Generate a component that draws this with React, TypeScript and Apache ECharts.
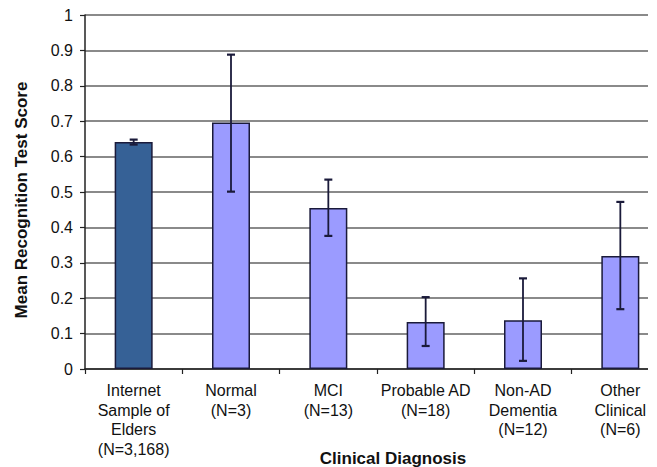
import React, { useEffect, useRef } from "react";
import * as echarts from "echarts";

const categories = [
  "Internet\nSample of\nElders\n(N=3,168)",
  "Normal\n(N=3)",
  "MCI\n(N=13)",
  "Probable AD\n(N=18)",
  "Non-AD\nDementia\n(N=12)",
  "Other\nClinical\n(N=6)",
];
const means = [0.641, 0.696, 0.455, 0.133, 0.138, 0.319];
const errLow = [0.634, 0.501, 0.376, 0.065, 0.023, 0.169];
const errHigh = [0.648, 0.888, 0.535, 0.203, 0.256, 0.472];
const yTicks = [0, 0.1, 0.2, 0.3, 0.4, 0.5, 0.6, 0.7, 0.8, 0.9, 1];

const FONT = "Liberation Sans, Arial, sans-serif";

export default function App() {
  const ref = useRef<HTMLDivElement>(null);
  useEffect(() => {
    if (!ref.current) return;
    const chart = echarts.init(ref.current, undefined, { renderer: "svg" });
    chart.setOption({
      animation: false,
      backgroundColor: "#ffffff",
      grid: { left: 85, top: 15, width: 584, height: 354, containLabel: false },
      xAxis: {
        type: "category",
        data: categories,
        axisLine: { lineStyle: { color: "#222", width: 1.5 } },
        axisTick: { show: true, alignWithLabel: false, length: 5, lineStyle: { color: "#222", width: 1.2 } },
        axisLabel: {
          color: "#111",
          fontFamily: FONT,
          fontSize: 16,
          lineHeight: 19.5,
          margin: 12,
          interval: 0,
        },
        splitLine: { show: false },
      },
      yAxis: {
        type: "value",
        min: 0,
        max: 1,
        interval: 0.1,
        axisLine: { show: true, lineStyle: { color: "#222", width: 1.5 } },
        axisTick: { show: true, length: 5, lineStyle: { color: "#222", width: 1.2 } },
        axisLabel: {
          color: "#111",
          fontFamily: FONT,
          fontSize: 16,
          margin: 12,
          formatter: (v: number) => {
            const t = yTicks.find((x) => Math.abs(x - v) < 1e-9);
            return t === undefined ? "" : String(Number(t.toFixed(1)));
          },
        },
        splitLine: { show: true, lineStyle: { color: "#8a8a8a", width: 1.8 } },
      },
      series: [
        {
          type: "bar",
          barWidth: 38,
          data: means.map((v, i) => ({
            value: v,
            itemStyle: { color: i === 0 ? "#366196" : "#9b9bff" },
          })),
          itemStyle: { borderColor: "#1a1a3a", borderWidth: 1.5 },
          z: 2,
        },
        {
          type: "custom",
          z: 3,
          data: means.map((_, i) => [i, errLow[i], errHigh[i]]),
          renderItem: (params: any, api: any) => {
            const i = api.value(0);
            const lo = api.coord([i, api.value(1)]);
            const hi = api.coord([i, api.value(2)]);
            const hw = 4;
            const style = { stroke: "#1a1a3a", lineWidth: 1.8 };
            return {
              type: "group",
              children: [
                { type: "line", shape: { x1: hi[0], y1: hi[1], x2: lo[0], y2: lo[1] }, style },
                { type: "line", shape: { x1: hi[0] - hw, y1: hi[1], x2: hi[0] + hw, y2: hi[1] }, style: { ...style, lineWidth: 2.2 } },
                { type: "line", shape: { x1: lo[0] - hw, y1: lo[1], x2: lo[0] + hw, y2: lo[1] }, style: { ...style, lineWidth: 2.2 } },
              ],
            };
          },
        },
      ],
      graphic: [
        {
          type: "text",
          x: 393,
          y: 458,
          style: {
            text: "Clinical Diagnosis",
            fontFamily: FONT,
            fontSize: 17,
            fontWeight: "bold",
            fill: "#111",
            align: "center",
            verticalAlign: "middle",
          },
        },
        {
          type: "text",
          x: 21,
          y: 200,
          rotation: Math.PI / 2,
          style: {
            text: "Mean Recognition Test Score",
            fontFamily: FONT,
            fontSize: 17,
            fontWeight: "bold",
            fill: "#111",
            align: "center",
            verticalAlign: "middle",
          },
        },
      ],
    });
    return () => chart.dispose();
  }, []);
  return (
    <div style={{ position: "fixed", left: 0, top: 0, width: 648, height: 467, overflow: "hidden", background: "#fff" }}>
      <div ref={ref} style={{ width: 700, height: 467 }} />
    </div>
  );
}
